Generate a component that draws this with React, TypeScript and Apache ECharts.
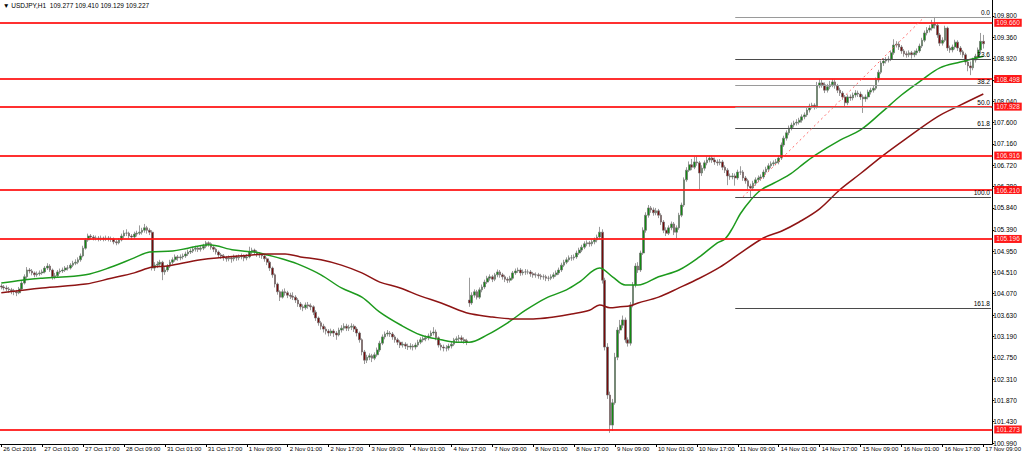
import React, { useEffect, useRef } from "react";
import * as echarts from "echarts";

const titleText = "\u25BC USDJPY,H1  109.277 109.410 109.129 109.227";

const timeLabels = [
  "26 Oct 2016", "27 Oct 01:00", "27 Oct 17:00", "28 Oct 09:00", "31 Oct 01:00",
  "31 Oct 17:00", "1 Nov 09:00", "2 Nov 01:00", "2 Nov 17:00", "3 Nov 09:00",
  "4 Nov 01:00", "4 Nov 17:00", "7 Nov 09:00", "8 Nov 01:00", "8 Nov 17:00",
  "9 Nov 09:00", "10 Nov 01:00", "10 Nov 17:00", "11 Nov 09:00", "14 Nov 01:00",
  "14 Nov 17:00", "15 Nov 09:00", "16 Nov 01:00", "16 Nov 17:00", "17 Nov 09:00",
];

const yTickLabels = [
  100.99, 101.43, 101.87, 102.31, 102.75, 103.19, 103.63, 104.07, 104.51, 104.95,
  105.39, 105.84, 106.28, 106.72, 107.16, 107.6, 108.04, 108.48, 108.92, 109.36, 109.8,
];

// [open, close, low, high] per hourly bar
const candles = [
  [104.23,104.21,104.16,104.27],[104.21,104.19,104.14,104.25],[104.19,104.17,104.12,104.24],[104.17,104.15,104.09,104.21],
  [104.15,104.13,104.06,104.19],[104.13,104.11,104.04,104.17],[104.11,104.09,104.02,104.15],[104.09,104.17,104.06,104.21],
  [104.17,104.29,104.14,104.33],[104.29,104.42,104.26,104.47],[104.42,104.56,104.38,104.62],[104.56,104.54,104.49,104.60],
  [104.54,104.50,104.45,104.58],[104.50,104.46,104.41,104.53],[104.46,104.48,104.42,104.53],[104.48,104.50,104.44,104.55],
  [104.50,104.52,104.46,104.57],[104.52,104.60,104.49,104.64],[104.60,104.64,104.56,104.70],[104.64,104.56,104.52,104.68],
  [104.56,104.42,104.36,104.59],[104.42,104.44,104.37,104.50],[104.44,104.52,104.41,104.56],[104.52,104.54,104.48,104.59],
  [104.54,104.56,104.50,104.61],[104.56,104.60,104.52,104.64],[104.60,104.60,104.55,104.66],[104.60,104.66,104.57,104.70],
  [104.66,104.70,104.62,104.75],[104.70,104.72,104.66,104.78],[104.72,104.77,104.68,104.82],[104.77,104.85,104.73,104.90],
  [104.85,105.01,104.82,105.06],[105.01,105.18,104.98,105.22],[105.18,105.26,105.14,105.31],[105.26,105.24,105.19,105.30],
  [105.24,105.22,105.17,105.28],[105.22,105.22,105.17,105.27],[105.22,105.20,105.15,105.26],[105.20,105.22,105.16,105.27],
  [105.22,105.20,105.15,105.25],[105.20,105.22,105.16,105.27],[105.22,105.20,105.15,105.26],[105.20,105.20,105.14,105.25],
  [105.20,105.14,105.09,105.23],[105.14,105.12,105.07,105.18],[105.12,105.18,105.09,105.22],[105.18,105.26,105.15,105.31],
  [105.26,105.32,105.22,105.38],[105.32,105.32,105.26,105.40],[105.32,105.26,105.21,105.35],[105.26,105.24,105.18,105.30],
  [105.24,105.30,105.20,105.35],[105.30,105.32,105.25,105.37],[105.32,105.34,105.28,105.48],[105.34,105.38,105.29,105.43],
  [105.38,105.43,105.33,105.51],[105.43,105.38,105.31,105.47],[105.38,105.34,105.28,105.42],[105.34,104.60,104.55,105.38],
  [104.60,104.66,104.54,104.72],[104.66,104.68,104.60,104.74],[104.68,104.72,104.63,104.77],[104.72,104.52,104.35,104.75],
  [104.52,104.56,104.46,104.62],[104.56,104.64,104.52,104.68],[104.64,104.72,104.60,104.77],[104.72,104.77,104.68,104.82],
  [104.77,104.83,104.73,104.88],[104.83,104.81,104.75,104.87],[104.81,104.83,104.76,104.88],[104.83,104.85,104.78,104.90],
  [104.85,104.89,104.81,104.94],[104.89,104.93,104.85,104.98],[104.93,104.95,104.89,105.00],[104.95,104.99,104.91,105.04],
  [104.99,105.01,104.94,105.06],[105.01,104.99,104.93,105.05],[104.99,105.01,104.94,105.07],[105.01,105.05,104.97,105.10],
  [105.05,105.12,105.01,105.16],[105.12,105.10,105.04,105.15],[105.10,105.03,104.98,105.13],[105.03,104.99,104.93,105.07],
  [104.99,104.93,104.88,105.02],[104.93,104.87,104.81,104.96],[104.87,104.85,104.79,104.91],[104.85,104.81,104.75,104.89],
  [104.81,104.79,104.73,104.85],[104.79,104.81,104.74,104.86],[104.81,104.79,104.71,104.85],[104.79,104.83,104.74,104.88],
  [104.83,104.81,104.75,104.87],[104.81,104.83,104.76,104.88],[104.83,104.85,104.78,104.90],[104.85,104.81,104.74,104.88],
  [104.81,104.83,104.76,104.89],[104.83,104.93,104.80,105.04],[104.93,104.97,104.89,105.02],[104.97,104.93,104.87,105.00],
  [104.93,104.89,104.83,104.97],[104.89,104.87,104.81,104.93],[104.87,104.85,104.79,104.91],[104.85,104.79,104.73,104.89],
  [104.79,104.72,104.66,104.82],[104.72,104.60,104.54,104.75],[104.60,104.46,104.40,104.63],[104.46,104.27,104.20,104.49],
  [104.27,104.11,104.05,104.30],[104.11,104.00,103.92,104.14],[104.00,104.11,103.97,104.16],[104.11,104.09,104.03,104.18],
  [104.09,104.04,103.98,104.13],[104.04,104.02,103.96,104.09],[104.02,104.00,103.94,104.10],[104.00,103.94,103.88,104.04],
  [103.94,103.86,103.80,103.98],[103.86,103.80,103.74,103.90],[103.80,103.78,103.71,103.85],[103.78,103.84,103.74,103.89],
  [103.84,103.82,103.76,103.90],[103.82,103.80,103.73,103.87],[103.80,103.69,103.63,103.83],[103.69,103.57,103.51,103.73],
  [103.57,103.47,103.41,103.60],[103.47,103.40,103.33,103.51],[103.40,103.34,103.27,103.45],[103.34,103.30,103.23,103.39],
  [103.30,103.26,103.19,103.34],[103.26,103.30,103.20,103.35],[103.30,103.26,103.18,103.34],[103.26,103.22,103.12,103.30],
  [103.22,103.32,103.19,103.37],[103.32,103.36,103.27,103.42],[103.36,103.40,103.31,103.46],[103.40,103.36,103.30,103.45],
  [103.36,103.38,103.30,103.43],[103.38,103.40,103.32,103.46],[103.40,103.34,103.28,103.44],[103.34,103.26,103.19,103.38],
  [103.26,103.12,103.06,103.29],[103.12,102.87,102.80,103.15],[102.87,102.70,102.62,102.91],[102.70,102.76,102.64,102.81],
  [102.76,102.79,102.70,102.84],[102.79,102.74,102.66,102.83],[102.74,102.81,102.70,102.86],[102.81,102.91,102.77,102.96],
  [102.91,103.05,102.87,103.10],[103.05,103.18,103.01,103.23],[103.18,103.24,103.13,103.29],[103.24,103.26,103.19,103.32],
  [103.26,103.24,103.18,103.30],[103.24,103.18,103.12,103.28],[103.18,103.12,103.06,103.22],[103.12,103.07,103.01,103.16],
  [103.07,103.01,102.95,103.11],[103.01,103.03,102.96,103.08],[103.03,102.99,102.93,103.07],[102.99,102.97,102.91,103.04],
  [102.97,102.99,102.92,103.05],[102.99,102.97,102.90,103.03],[102.97,103.01,102.92,103.06],[103.01,103.07,102.97,103.12],
  [103.07,103.12,103.03,103.17],[103.12,103.14,103.07,103.19],[103.14,103.16,103.09,103.21],[103.16,103.20,103.11,103.25],
  [103.20,103.26,103.16,103.31],[103.26,103.28,103.21,103.38],[103.28,103.16,103.11,103.33],[103.16,103.01,102.96,103.19],
  [103.01,102.97,102.90,103.05],[102.97,102.95,102.88,103.02],[102.95,102.95,102.88,103.01],[102.95,102.99,102.90,103.04],
  [102.99,103.03,102.94,103.08],[103.03,103.12,102.99,103.16],[103.12,103.14,103.06,103.19],[103.14,103.16,103.08,103.22],
  [103.16,103.12,103.06,103.21],[103.12,103.10,103.04,103.17],[103.10,103.07,103.01,103.14],[103.94,103.88,103.80,104.40],
  [103.88,104.04,103.84,104.10],[104.04,104.11,103.99,104.16],[104.11,104.00,103.95,104.15],[104.00,104.15,103.96,104.20],
  [104.15,104.21,104.10,104.26],[104.21,104.31,104.17,104.36],[104.31,104.39,104.27,104.44],[104.39,104.42,104.34,104.47],
  [104.42,104.37,104.31,104.46],[104.37,104.46,104.33,104.50],[104.46,104.52,104.41,104.57],[104.52,104.46,104.40,104.56],
  [104.46,104.42,104.36,104.50],[104.42,104.37,104.31,104.46],[104.37,104.35,104.29,104.41],[104.35,104.39,104.30,104.44],
  [104.39,104.50,104.36,104.54],[104.50,104.54,104.46,104.59],[104.54,104.56,104.50,104.61],[104.56,104.50,104.44,104.60],
  [104.50,104.52,104.45,104.57],[104.52,104.52,104.46,104.58],[104.52,104.52,104.47,104.57],[104.52,104.48,104.42,104.56],
  [104.48,104.46,104.40,104.52],[104.46,104.46,104.40,104.51],[104.46,104.44,104.38,104.50],[104.44,104.42,104.36,104.48],
  [104.42,104.42,104.36,104.47],[104.42,104.39,104.33,104.46],[104.39,104.39,104.33,104.44],[104.39,104.42,104.35,104.47],
  [104.42,104.46,104.38,104.51],[104.46,104.50,104.42,104.55],[104.50,104.56,104.46,104.61],[104.56,104.66,104.52,104.71],
  [104.66,104.72,104.62,104.77],[104.72,104.77,104.68,104.82],[104.77,104.81,104.73,104.86],[104.81,104.81,104.75,104.87],
  [104.81,104.83,104.76,104.88],[104.83,104.91,104.79,104.96],[104.91,104.97,104.87,105.02],[104.97,105.03,104.93,105.08],
  [105.03,105.10,104.99,105.15],[105.10,105.12,105.05,105.17],[105.12,105.10,105.04,105.16],[105.10,105.14,105.05,105.19],
  [105.14,105.18,105.09,105.23],[105.18,105.24,105.13,105.29],[105.24,105.34,105.20,105.45],[105.34,104.35,104.28,105.40],
  [104.35,102.97,102.90,104.40],[102.97,101.98,101.90,103.05],[101.98,101.36,101.20,102.05],[101.36,101.82,101.24,101.90],
  [101.82,102.76,101.78,102.85],[102.76,103.32,102.70,103.38],[103.32,103.42,103.25,103.53],[103.42,103.53,103.36,103.62],
  [103.53,103.12,103.06,103.58],[103.12,103.05,102.98,103.17],[103.05,103.84,103.00,103.90],[103.84,104.25,103.79,104.31],
  [104.25,104.64,104.20,104.70],[104.64,104.56,104.50,104.72],[104.56,104.91,104.52,104.96],[104.91,105.38,104.87,105.44],
  [105.38,105.69,105.33,105.75],[105.69,105.84,105.64,105.90],[105.84,105.80,105.74,105.88],[105.80,105.74,105.68,105.85],
  [105.74,105.78,105.69,105.84],[105.78,105.69,105.63,105.82],[105.69,105.55,105.49,105.73],[105.55,105.38,105.32,105.59],
  [105.38,105.32,105.26,105.44],[105.32,105.43,105.28,105.48],[105.43,105.51,105.38,105.56],[105.51,105.34,105.28,105.55],
  [105.34,105.43,105.22,105.48],[105.43,105.69,105.39,105.74],[105.69,105.90,105.65,105.95],[105.90,106.42,105.86,106.47],
  [106.42,106.62,106.38,106.68],[106.62,106.73,106.58,106.80],[106.73,106.68,106.62,106.85],[106.68,106.79,106.64,106.90],
  [106.79,106.77,106.71,106.90],[106.77,106.56,106.22,106.81],[106.56,106.66,106.50,106.72],[106.66,106.77,106.61,106.82],
  [106.77,106.83,106.72,106.90],[106.83,106.87,106.78,106.92],[106.87,106.83,106.77,106.92],[106.83,106.79,106.73,106.88],
  [106.79,106.77,106.71,106.84],[106.77,106.79,106.72,106.85],[106.79,106.68,106.62,106.83],[106.68,106.62,106.56,106.72],
  [106.62,106.50,106.31,106.66],[106.50,106.48,106.42,106.55],[106.48,106.50,106.43,106.56],[106.50,106.46,106.30,106.55],
  [106.46,106.58,106.42,106.63],[106.58,106.58,106.52,106.70],[106.58,106.46,106.40,106.62],[106.46,106.40,106.34,106.50],
  [106.40,106.29,106.23,106.44],[106.29,106.25,106.07,106.34],[106.25,106.35,106.20,106.40],[106.35,106.42,106.30,106.47],
  [106.42,106.46,106.37,106.51],[106.46,106.48,106.40,106.53],[106.48,106.58,106.44,106.63],[106.58,106.64,106.53,106.69],
  [106.64,106.71,106.59,106.76],[106.71,106.75,106.66,106.80],[106.75,106.77,106.70,106.82],[106.77,106.79,106.72,106.85],
  [106.79,106.87,106.74,106.92],[106.87,107.14,106.83,107.19],[107.14,107.28,107.10,107.33],[107.28,107.39,107.23,107.44],
  [107.39,107.49,107.34,107.54],[107.49,107.55,107.44,107.60],[107.55,107.59,107.50,107.64],[107.59,107.61,107.54,107.67],
  [107.61,107.65,107.56,107.70],[107.65,107.72,107.60,107.77],[107.72,107.76,107.67,107.81],[107.76,107.86,107.72,107.91],
  [107.86,107.94,107.81,107.99],[107.94,107.96,107.89,108.01],[107.96,107.92,107.87,108.00],[107.92,108.36,107.89,108.44],
  [108.36,108.42,108.31,108.50],[108.42,108.38,108.32,108.48],[108.38,108.27,108.21,108.43],[108.27,108.34,108.22,108.40],
  [108.34,108.38,108.29,108.46],[108.38,108.44,108.33,108.50],[108.44,108.36,108.30,108.49],[108.36,108.27,108.21,108.40],
  [108.27,108.21,108.15,108.32],[108.21,108.13,108.07,108.25],[108.13,108.01,107.94,108.17],[108.01,108.13,107.96,108.18],
  [108.13,108.11,108.05,108.18],[108.11,108.17,108.06,108.22],[108.17,108.21,108.12,108.27],[108.21,108.19,108.13,108.26],
  [108.19,108.13,108.07,108.24],[108.13,108.09,107.80,108.18],[108.09,108.13,108.03,108.18],[108.13,108.23,108.08,108.28],
  [108.23,108.27,108.18,108.32],[108.27,108.31,108.22,108.36],[108.31,108.48,108.27,108.53],[108.48,108.64,108.43,108.69],
  [108.64,108.83,108.60,108.88],[108.83,108.87,108.77,108.93],[108.87,108.89,108.82,108.95],[108.89,108.91,108.84,108.97],
  [108.91,109.04,108.87,109.09],[109.04,109.20,109.00,109.32],[109.20,109.22,109.15,109.28],[109.22,109.16,109.10,109.27],
  [109.16,109.08,109.02,109.20],[109.08,109.02,108.96,109.12],[109.02,109.00,108.94,109.07],[109.00,109.04,108.95,109.09],
  [109.04,109.00,108.92,109.08],[109.00,109.04,108.95,109.09],[109.04,109.08,108.99,109.13],[109.08,109.18,109.04,109.23],
  [109.18,109.30,109.14,109.35],[109.30,109.45,109.26,109.50],[109.45,109.51,109.40,109.57],[109.51,109.55,109.46,109.61],
  [109.55,109.63,109.50,109.72],[109.63,109.61,109.54,109.78],[109.61,109.41,109.35,109.66],[109.41,109.24,109.18,109.45],
  [109.24,109.30,109.19,109.36],[109.30,109.55,109.26,109.60],[109.55,109.14,109.08,109.58],[109.14,109.10,109.04,109.19],
  [109.10,109.16,109.05,109.21],[109.16,109.26,109.11,109.31],[109.26,109.14,109.08,109.30],[109.14,109.06,109.00,109.18],
  [109.06,109.00,108.94,109.10],[109.00,108.85,108.79,109.04],[108.85,108.77,108.66,108.90],[108.77,108.73,108.58,108.86],
  [108.73,108.89,108.68,108.94],[108.89,108.97,108.84,109.02],[108.97,109.10,108.92,109.15],[109.10,109.277,109.05,109.45],
  [109.277,109.227,109.129,109.41],
];

// moving averages: [bar index, value]
const maGreen = [
  [0,104.29],[8,104.35],[16,104.39],[33,104.46],[43,104.62],[52,104.81],[58,104.93],[67,104.95],[73,105.01],
  [81,105.08],[91,104.97],[99,104.93],[104,104.87],[111,104.77],[117,104.66],[125,104.46],[133,104.19],
  [141,104.0],[148,103.69],[156,103.43],[164,103.22],[172,103.12],[178,103.07],[183,103.07],[190,103.22],
  [198,103.47],[205,103.73],[213,103.98],[221,104.15],[226,104.31],[234,104.6],[239,104.42],[244,104.25],
  [249,104.25],[257,104.42],[265,104.56],[273,104.83],[280,105.12],[283,105.2],[286,105.43],[289,105.72],
  [293,106.0],[297,106.21],[302,106.35],[308,106.52],[312,106.68],[318,106.92],[328,107.24],[336,107.45],
  [344,107.8],[352,108.17],[360,108.48],[367,108.73],[375,108.85],[384,108.97],
];
const maRed = [
  [0,104.09],[16,104.19],[33,104.27],[43,104.39],[52,104.5],[59,104.62],[65,104.64],[78,104.77],[98,104.87],
  [104,104.89],[111,104.89],[117,104.83],[125,104.77],[133,104.66],[141,104.5],[148,104.31],[156,104.19],
  [164,104.02],[172,103.88],[179,103.73],[184,103.65],[192,103.59],[200,103.55],[208,103.55],[216,103.59],
  [223,103.65],[230,103.73],[234,103.84],[238,103.78],[242,103.8],[246,103.82],[249,103.88],[257,104.0],
  [265,104.19],[273,104.39],[281,104.62],[288,104.87],[298,105.22],[305,105.36],[312,105.55],[320,105.82],
  [328,106.22],[336,106.55],[344,106.89],[353,107.24],[366,107.72],[375,107.96],[384,108.19],
];

const levels = [109.66, 108.498, 107.928, 106.916, 106.21, 105.196, 101.273];
const lastPrice = 109.227;
const fibPercents = [0.0, 23.6, 38.2, 50.0, 61.8, 100.0, 161.8];
const fibHigh = 109.78;
const fibLow = 106.07;
const fibStartBar = 287;
const fibTrend = [[290, 106.07], [361, 109.78]];

const FONT = "'Liberation Sans', Arial, sans-serif";
const EXTRA_BARS = 3;

export default function App() {
  const ref = useRef<HTMLDivElement>(null);
  useEffect(() => {
    document.body.style.margin = "0";
    if (!ref.current) return;
    const chart = echarts.init(ref.current, undefined, { renderer: "svg" });
    const n = candles.length + EXTRA_BARS;
    const cats = Array.from({ length: n }, (_, i) => String(i));
    const lastIdx = n - 1;

    const levelLines = levels.map((v) => ({
      yAxis: v,
      lineStyle: { color: "#ff1a1a", width: 1.8, type: "solid", opacity: 0.9 },
      label: {
        show: true,
        position: "end",
        distance: 2,
        formatter: v.toFixed(3),
        backgroundColor: "#ff0000",
        color: "#ffffff",
        fontFamily: FONT,
        fontSize: 6.5,
        padding: [1, 2, 0, 2],
      },
    }));
    const fibLines = fibPercents.map((p) => {
      const v = fibHigh - (p / 100) * (fibHigh - fibLow);
      const dark = p === 23.6 || p === 61.8 || p === 100 || p === 161.8;
      return [
        {
          coord: [fibStartBar, v],
          lineStyle: { color: dark ? "#4a4a4a" : "#9a9a9a", width: 1, type: "solid" },
          label: {
            show: true,
            position: "insideEndTop",
            formatter: p.toFixed(1),
            color: "#000",
            fontFamily: FONT,
            fontSize: 6.5,
            distance: 1,
          },
        },
        { coord: [lastIdx, v] },
      ];
    });
    const trendLine = [
      {
        coord: fibTrend[0],
        lineStyle: { color: "#ff6a6a", width: 1, type: [2, 3] },
        label: { show: false },
      },
      { coord: fibTrend[1] },
    ];
    const priceLabel = {
      yAxis: lastPrice,
      lineStyle: { width: 0, opacity: 0 },
      label: {
        show: true,
        position: "end",
        distance: 2,
        formatter: lastPrice.toFixed(3),
        backgroundColor: "#000000",
        color: "#ffffff",
        fontFamily: FONT,
        fontSize: 6.5,
        padding: [1, 2, 0, 2],
      },
    };

    chart.setOption({
      animation: false,
      backgroundColor: "#ffffff",
      title: {
        text: titleText,
        left: 3,
        top: 2,
        padding: 0,
        textStyle: { fontFamily: FONT, fontSize: 6.5, fontWeight: "normal", color: "#000" },
      },
      grid: { left: 0, right: 30, top: 0, bottom: 12, containLabel: false },
      xAxis: {
        type: "category",
        data: cats,
        boundaryGap: true,
        axisLine: { show: true, lineStyle: { color: "#000", width: 1 } },
        axisTick: {
          show: true,
          alignWithLabel: true,
          length: 3,
          interval: (idx: number) => idx % 16 === 0,
          lineStyle: { color: "#000" },
        },
        axisLabel: {
          show: true,
          interval: (idx: number) => idx % 16 === 0,
          formatter: (_v: string, idx: number) => timeLabels[idx / 16] ?? "",
          align: "left",
          margin: 2,
          padding: [0, 0, 0, 2],
          color: "#000",
          fontFamily: FONT,
          fontSize: 6,
          hideOverlap: false,
        },
        splitLine: { show: false },
      },
      yAxis: {
        type: "value",
        position: "right",
        min: 100.97,
        max: 110.13,
        axisLine: { show: true, lineStyle: { color: "#000", width: 1 } },
        axisTick: { show: true, length: 2, customValues: yTickLabels, lineStyle: { color: "#000" } },
        axisLabel: {
          show: true,
          customValues: yTickLabels,
          formatter: (v: number) => v.toFixed(3),
          margin: 1,
          color: "#000",
          fontFamily: FONT,
          fontSize: 6.5,
        },
        splitLine: { show: false },
      },
      series: [
        {
          type: "candlestick",
          data: candles,
          barWidth: 2.2,
          itemStyle: {
            color: "#118a11",
            color0: "#760a0a",
            borderColor: "#707070",
            borderColor0: "#707070",
            borderWidth: 0.7,
          },
          markLine: {
            silent: true,
            symbol: ["none", "none"],
            animation: false,
            data: [...levelLines, ...fibLines, trendLine, priceLabel],
          },
          z: 2,
        },
        {
          type: "line",
          data: maGreen,
          showSymbol: false,
          smooth: 0.35,
          lineStyle: { color: "#1d9a1d", width: 1.5 },
          z: 3,
        },
        {
          type: "line",
          data: maRed,
          showSymbol: false,
          smooth: 0.35,
          lineStyle: { color: "#8e1414", width: 1.5 },
          z: 3,
        },
      ],
    });
    return () => chart.dispose();
  }, []);
  return <div ref={ref} style={{ width: 1024, height: 456 }} />;
}
